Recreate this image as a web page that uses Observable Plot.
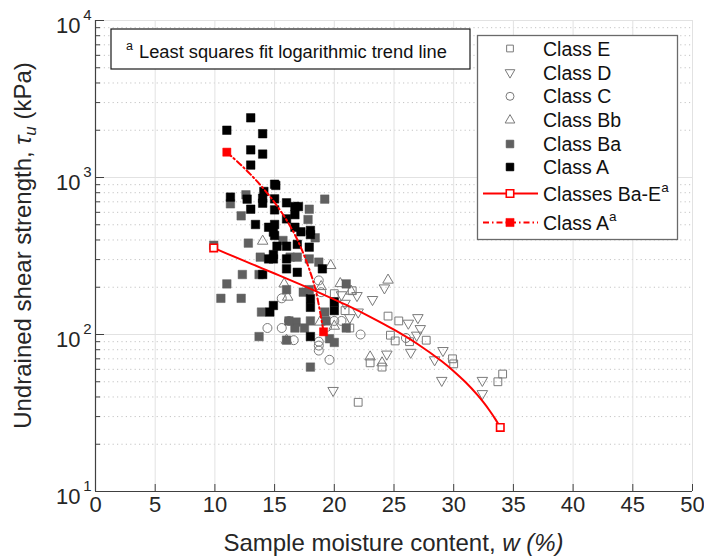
<!DOCTYPE html>
<html>
<head>
<meta charset="utf-8">
<script src="https://cdn.jsdelivr.net/npm/d3@7"></script>
<script src="https://cdn.jsdelivr.net/npm/@observablehq/plot@0.6"></script>
<style>
  html, body { margin: 0; padding: 0; background: #fff; }
  #chart svg { display: block; }
</style>
</head>
<body>
<div id="chart"></div>
<script>
// Undrained shear strength vs. sample moisture content, by soil class
const classE_w   = [20.0, 21.5, 20.9, 21.3, 22.0, 24.5, 25.4, 24.7, 25.1, 26.3, 27.7, 23.0, 24.0, 29.9, 30.0, 33.7, 34.1];
const classE_tau = [182, 190, 142, 110, 37, 131, 122, 99, 91, 90, 92, 66, 62, 70, 65, 50, 56];

const classD_w   = [19.9, 20.6, 20.9, 21.3, 21.9, 22.0, 23.2, 24.2, 26.2, 27.0, 27.2, 26.9, 26.4, 24.4, 28.4, 29.1, 29.0, 32.4, 32.4];
const classD_tau = [44, 179, 158, 128, 177, 139, 167, 198, 118, 128, 109, 99, 77, 75, 69, 79, 51, 51, 42];

const classC_w   = [14.4, 15.6, 16.2, 16.6, 15.6, 18.7, 18.9, 18.7, 18.7, 18.7, 19.6, 20.0, 20.6, 22.2, 26.0, 19.4];
const classC_tau = [110, 110, 122, 92, 170, 221, 186, 90, 85, 79, 69, 122, 122, 100, 95, 112];

const classBb_w   = [14.0, 19.7, 16.1, 16.0, 18.8, 18.9, 20.5, 21.4, 24.5, 23.0, 24.0, 20.0, 15.8];
const classBb_tau = [393, 275, 173, 92, 120, 202, 211, 189, 222, 72, 66, 113, 210];

const classBa_w   = [9.9, 11.3, 12.6, 19.2, 17.9, 17.8, 12.2, 18.4, 15.7, 12.8, 13.8, 16.3, 16.9, 17.9, 18.7, 12.3, 13.7, 11.0, 10.5, 12.2,
                     16.0, 17.4, 17.9, 21.0, 13.9, 19.2, 16.8, 16.7, 17.5, 18.0, 13.7, 19.6, 20.0, 18.0, 21.0, 16.2, 19.3, 16.0];
const classBa_tau = [370, 680, 776, 728, 628, 540, 570, 413, 397, 382, 311, 311, 311, 303, 289, 241, 241, 210, 170, 170,
                     193, 186, 193, 210, 139, 139, 120, 110, 110, 122, 97, 94, 89, 62, 110, 122, 122, 92];

const classA_w   = [13.0, 11.0, 14.0, 13.0, 14.0, 13.0, 15.0, 15.1, 14.1, 11.3, 12.7, 14.0, 14.0, 15.0, 16.0, 16.7, 17.0, 16.7, 13.0, 15.0,
                    16.0, 13.4, 14.5, 15.0, 14.9, 15.0, 16.7, 17.2, 18.0, 18.0, 15.2, 16.0, 17.9, 14.5, 14.9, 14.9, 16.0, 16.0, 16.9, 19.0,
                    14.0, 16.9, 18.0, 18.0, 14.9, 14.6, 20.0, 20.0, 18.0];
const classA_tau = [2400, 2000, 1900, 1500, 1410, 1200, 906, 890, 815, 750, 728, 738, 686, 731, 690, 653, 653, 580, 628, 622,
                    545, 502, 482, 502, 449, 427, 482, 451, 460, 433, 365, 365, 360, 303, 303, 323, 303, 262, 249, 262,
                    241, 375, 169, 149, 153, 139, 161, 142, 97];

// Logarithmic trend lines (least squares fits), sampled along each curve
const fitBaE_w   = [9.9, 11, 13, 15, 17, 19, 21, 23, 25, 27, 29, 30, 31, 32, 32.5, 33, 33.5, 33.9];
const fitBaE_tau = [356, 327.8, 283.0, 244.5, 210.9, 181.0, 154.2, 129.7, 107.3, 86.7, 67.5, 58.4, 49.6, 41.1, 36.9, 32.8, 28.8, 25.6];
const fitA_w     = [11, 12, 13, 14, 15, 16, 17, 18, 18.5, 19.1];
const fitA_tau   = [1450, 1238, 1043, 862, 693, 536, 388, 248, 183, 104];

// Axis ticks and labels
const xTicks = [0, 5, 10, 15, 20, 25, 30, 35, 40, 45, 50];
const yMajorTicks = [10, 100, 1000, 10000];
const yExponents = ["1", "2", "3", "4"];
const yMinorTicks = [10, 100, 1000].flatMap(d => [2, 3, 4, 5, 6, 7, 8, 9].map(k => k * d));

const legendLabels = ["Class E", "Class D", "Class C", "Class Bb", "Class Ba", "Class A"];
const fitLabels = ["Classes Ba-E", "Class A"];
const noteText = "Least squares fit logarithmic trend line";
const xTitle = ["Sample moisture content, ", "w (%)"];
const yTitle = ["Undrained shear strength, ", "τ", "u", " (kPa)"];

(function draw() {
  const rows = (w, tau) => w.map((v, i) => ({w: v, tau: tau[i]}));
  const ends = (arr) => [arr[0], arr[arr.length - 1]];

  // Downward-pointing triangle symbol
  const triangleDown = {
    draw(context, size) {
      const h = -Math.sqrt(size / (Math.sqrt(3) * 3));
      context.moveTo(0, -h * 2);
      context.lineTo(-Math.sqrt(3) * h, h);
      context.lineTo(Math.sqrt(3) * h, h);
      context.closePath();
    }
  };

  const openGray = "#7a7a7a";
  const fillGray = "#606060";
  const red = "#ff0000";
  const font = "'Liberation Sans', Arial, Helvetica, sans-serif";

  const fitBaE = rows(fitBaE_w, fitBaE_tau);
  const fitA = rows(fitA_w, fitA_tau);

  const chart = Plot.plot({
    width: 704,
    height: 558,
    marginLeft: 95,
    marginRight: 12,
    marginTop: 20,
    marginBottom: 67,
    style: {fontFamily: font, background: "#fff", overflow: "visible"},
    x: {domain: [0, 50], axis: null},
    y: {type: "log", domain: [10, 10000], axis: null},
    marks: [
      // grid
      Plot.ruleY(yMinorTicks, {stroke: "#c4c4c4", strokeDasharray: "1.2,3.2", strokeWidth: 1}),
      Plot.ruleX(xTicks, {stroke: "#e2e2e2", strokeWidth: 1}),
      Plot.ruleY(yMajorTicks, {stroke: "#e2e2e2", strokeWidth: 1}),
      // axis lines
      Plot.ruleX([0], {stroke: "#404040", strokeWidth: 1.2}),
      Plot.ruleY([10], {stroke: "#404040", strokeWidth: 1.2}),
      // inward ticks
      Plot.ruleY(yMajorTicks, {x1: 0, x2: 0, insetRight: -9, stroke: "#404040"}),
      Plot.ruleY(yMinorTicks, {x1: 0, x2: 0, insetRight: -5, stroke: "#404040"}),
      Plot.ruleX(xTicks, {y1: 10, y2: 10, insetTop: -7, stroke: "#404040"}),
      // tick labels
      Plot.text(xTicks, {x: d => d, frameAnchor: "bottom", dy: 20, text: d => String(d), fontSize: 22, fill: "#262626"}),
      Plot.text(yMajorTicks, {y: d => d, frameAnchor: "left", text: () => "10", textAnchor: "end", dx: -15, dy: 5, fontSize: 22, fill: "#262626"}),
      Plot.text(yMajorTicks, {y: d => d, frameAnchor: "left", text: (d, i) => yExponents[i], textAnchor: "end", dx: -4, dy: -5, fontSize: 15, fill: "#262626"}),
      // data
      Plot.dot(rows(classE_w, classE_tau), {x: "w", y: "tau", symbol: "square", r: 4.4, stroke: openGray, strokeWidth: 1, fill: "none"}),
      Plot.dot(rows(classD_w, classD_tau), {x: "w", y: "tau", symbol: triangleDown, r: 3.9, stroke: openGray, strokeWidth: 1, fill: "none"}),
      Plot.dot(rows(classC_w, classC_tau), {x: "w", y: "tau", symbol: "circle", r: 4.5, stroke: openGray, strokeWidth: 1, fill: "none"}),
      Plot.dot(rows(classBb_w, classBb_tau), {x: "w", y: "tau", symbol: "triangle", r: 3.9, stroke: openGray, strokeWidth: 1, fill: "none"}),
      Plot.dot(rows(classBa_w, classBa_tau), {x: "w", y: "tau", symbol: "square", r: 4.8, fill: fillGray, stroke: fillGray, strokeWidth: 0.5}),
      Plot.dot(rows(classA_w, classA_tau), {x: "w", y: "tau", symbol: "square", r: 4.8, fill: "#000", stroke: "#000", strokeWidth: 0.5}),
      // trend lines
      Plot.line(fitBaE, {x: "w", y: "tau", stroke: red, strokeWidth: 2, curve: "catmull-rom"}),
      Plot.dot(ends(fitBaE), {x: "w", y: "tau", symbol: "square", r: 4.2, stroke: red, strokeWidth: 1.6, fill: "#fff"}),
      Plot.line(fitA, {x: "w", y: "tau", stroke: red, strokeWidth: 2, strokeDasharray: "6,3,1.5,3", curve: "catmull-rom"}),
      Plot.dot(ends(fitA), {x: "w", y: "tau", symbol: "square", r: 4.6, fill: red, stroke: red, strokeWidth: 0.5})
    ]
  });

  document.getElementById("chart").appendChild(chart);

  // Titles, note box and legend
  const svg = d3.select(chart);
  const sx = chart.scale("x"), sy = chart.scale("y");
  const xLeft = sx.apply(0), xRight = sx.apply(50), yTop = sy.apply(10000), yBottom = sy.apply(10);

  const xt = svg.append("text")
    .attr("x", (xLeft + xRight) / 2).attr("y", 551)
    .attr("text-anchor", "middle").attr("font-size", 24).attr("fill", "#262626")
    .attr("font-family", font);
  xt.append("tspan").text(xTitle[0]);
  xt.append("tspan").attr("font-style", "italic").text(xTitle[1]);

  const yt = svg.append("text")
    .attr("transform", `translate(31,${(yTop + yBottom) / 2 - 10}) rotate(-90)`)
    .attr("text-anchor", "middle").attr("font-size", 24).attr("fill", "#262626")
    .attr("font-family", font);
  yt.append("tspan").text(yTitle[0]);
  yt.append("tspan").attr("font-style", "italic").text(yTitle[1]);
  yt.append("tspan").attr("font-style", "italic").attr("font-size", 17).attr("dy", 5).text(yTitle[2]);
  yt.append("tspan").attr("dy", -5).text(yTitle[3]);

  // note box
  const note = svg.append("g").attr("text-anchor", "start").attr("font-family", font);
  note.append("rect").attr("x", 111).attr("y", 29).attr("width", 359).attr("height", 40)
    .attr("fill", "#fff").attr("stroke", "#1a1a1a").attr("stroke-width", 1.2);
  note.append("text").attr("x", 126).attr("y", 50).attr("font-size", 12.5).attr("fill", "#111").text("a");
  note.append("text").attr("x", 139).attr("y", 57.5).attr("font-size", 18.3).attr("fill", "#111").text(noteText);

  // legend
  const lg = svg.append("g").attr("text-anchor", "start").attr("font-family", font);
  lg.append("rect").attr("x", 477.5).attr("y", 35.5).attr("width", 200).attr("height", 204)
    .attr("fill", "#fff").attr("stroke", "#6a6a6a").attr("stroke-width", 1.3);
  const rowY = [48.5, 72.5, 96.3, 120.2, 144, 167, 193.5, 222.5];
  const legendSymbols = [
    {type: d3.symbolSquare, r: 3.8, fill: "none", stroke: openGray},
    {type: triangleDown, r: 3.6, fill: "none", stroke: openGray},
    {type: d3.symbolCircle, r: 4.0, fill: "none", stroke: openGray},
    {type: d3.symbolTriangle, r: 3.6, fill: "none", stroke: openGray},
    {type: d3.symbolSquare, r: 4.2, fill: fillGray, stroke: fillGray},
    {type: d3.symbolSquare, r: 4.2, fill: "#000", stroke: "#000"}
  ];
  legendLabels.forEach((label, i) => {
    const s = legendSymbols[i];
    lg.append("path")
      .attr("transform", `translate(510,${rowY[i]})`)
      .attr("d", d3.symbol(s.type, s.r * s.r * Math.PI)())
      .attr("fill", s.fill).attr("stroke", s.stroke).attr("stroke-width", 1);
    lg.append("text").attr("x", 543).attr("y", rowY[i] + 7).attr("font-size", 19.5)
      .attr("fill", "#111").text(label);
  });
  fitLabels.forEach((label, j) => {
    const yy = rowY[6 + j];
    lg.append("line").attr("x1", 483).attr("x2", 538).attr("y1", yy).attr("y2", yy)
      .attr("stroke", red).attr("stroke-width", 2)
      .attr("stroke-dasharray", j === 1 ? "6,3,1.5,3" : null);
    lg.append("path").attr("transform", `translate(510,${yy})`)
      .attr("d", d3.symbol(d3.symbolSquare, (j === 0 ? 4.2 : 4.6) ** 2 * Math.PI)())
      .attr("fill", j === 0 ? "#fff" : red).attr("stroke", red).attr("stroke-width", j === 0 ? 1.6 : 0.5);
    const t = lg.append("text").attr("x", 543).attr("y", yy + 7).attr("font-size", 19.5)
      .attr("fill", "#111");
    t.append("tspan").text(label);
    t.append("tspan").attr("font-size", 13.5).attr("dy", -9).text("a");
  });
})();
</script>
</body>
</html>
